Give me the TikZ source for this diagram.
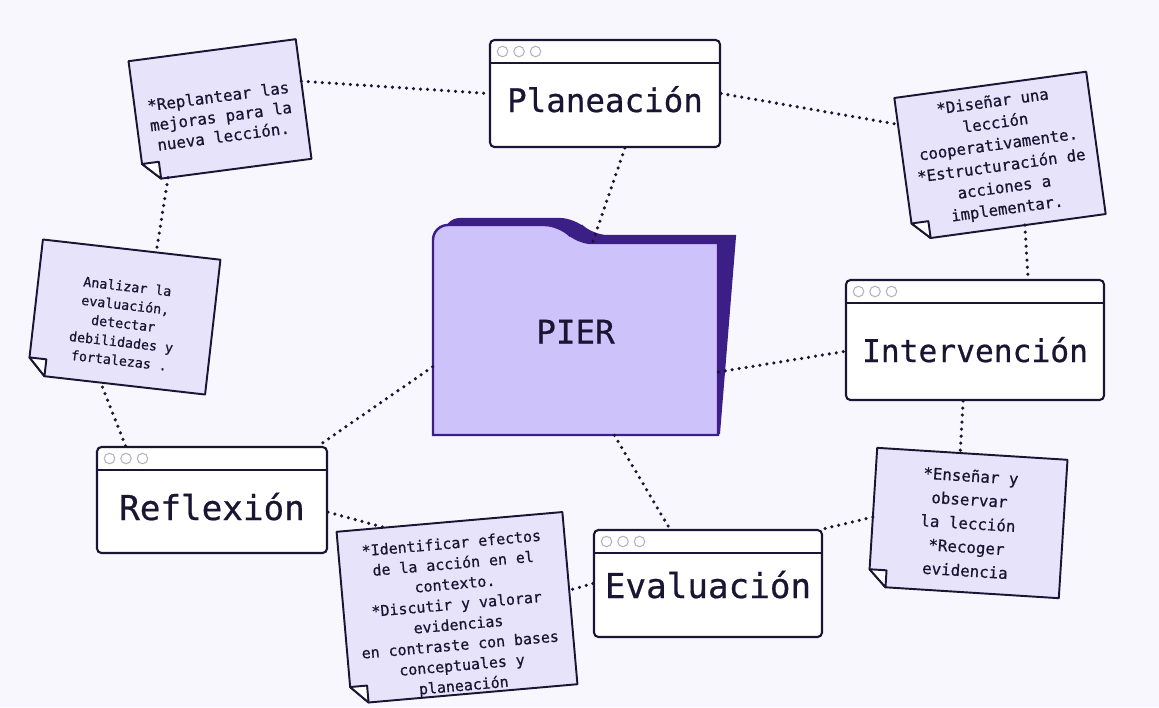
\documentclass[tikz,border=0pt]{standalone}
\usepackage{fontspec}
\usepackage{tikz}
\usetikzlibrary{calc, backgrounds}
\newfontfamily\mono[FakeBold=0.6]{DejaVu Sans Mono}
\definecolor{fondo}{HTML}{F8F7FD}
\definecolor{borde}{HTML}{1A1533}
\definecolor{papel}{HTML}{E6E3FA}
\definecolor{carpetaclara}{HTML}{CDC3FA}
\definecolor{carpetaoscura}{HTML}{3C1E87}
\definecolor{gris}{HTML}{B4B2C2}

\tikzset{
  ventana/.style={draw=borde, fill=white, line width=1.2pt, rounded corners=2.5pt, inner sep=0pt, text=borde,
    path picture={
      \draw[borde, line width=1.2pt] ([yshift=-0.46cm]path picture bounding box.north west) -- ([yshift=-0.46cm]path picture bounding box.north east);
      \foreach \dx in {0.25cm,0.58cm,0.91cm}
        \draw[gris, line width=0.6pt] ([xshift=\dx, yshift=-0.23cm]path picture bounding box.north west) circle (0.105cm);
    }},
  titulo/.style={font=\mono\fontsize{#1}{#1}\selectfont},
  nota/.style={inner sep=0pt, align=center, text=borde},
  letra/.style 2 args={font=\mono\fontsize{#1}{#2}\selectfont},
  hoja/.style={fill=papel, draw=borde, line width=1.1pt, line join=round},
  doblez/.style={fill=white, draw=borde, line width=1.1pt, line join=round},
  punteado/.style={draw=borde, line width=2pt, dash pattern=on 0pt off 4pt, line cap=round}
}

\begin{document}
\begin{tikzpicture}[x=0.02cm, y=-0.02cm]
  \useasboundingbox (0,0) rectangle (1159,707);
  \begin{scope}[on background layer]
    \fill[fondo] (0,0) rectangle (1159,707);
  \end{scope}

  % Carpeta PIER
  \filldraw[fill=carpetaoscura, draw=carpetaoscura, line width=1.2pt] (445,433) -- (445,236) [rounded corners=0.3cm] -- (445,219) -- (575,219) -- (592,236) [sharp corners] -- (735,236) -- (719,433) -- cycle;
  \filldraw[fill=carpetaclara, draw=carpetaoscura, line width=1.4pt] (433,435) -- (433,243) [rounded corners=0.3cm] -- (433,225) -- (560,225) -- (577,243) [sharp corners] -- (718,243) -- (718,435) -- cycle;
  \node[titulo=18.5, text=borde, inner sep=0pt, minimum width=5.7cm, text height=2.01cm, text depth=1.83cm] (carpeta) at (575.5,339) {PIER};

  % Ventanas
  \node[ventana, titulo=18.5, minimum width=4.6cm, text height=1.44cm, text depth=0.70cm] (plan) at (605,93.5) {Planeación};
  \node[ventana, titulo=17.8, minimum width=5.16cm, text height=1.64cm, text depth=0.76cm] (interv) at (975,340) {Intervención\hspace{0.35cm}};
  \node[ventana, titulo=19.5, minimum width=4.6cm, text height=1.46cm, text depth=0.66cm] (refl) at (212,500) {Reflexión};
  \node[ventana, titulo=19.5, minimum width=4.56cm, text height=1.36cm, text depth=0.78cm] (eval) at (708,583.5) {Evaluación};

  % Notas
  \node[nota, letra={9}{11.5}, rotate=7.5, minimum width=3.36cm, minimum height=2.4cm] (nota1) at (220,110)
    {\rule{0pt}{14pt}*Replantear las\\mejoras para la\\nueva lección.};
  \node[nota, letra={8.9}{12.3}, rotate=7.8, minimum width=3.86cm, minimum height=2.86cm] (nota2) at (1000,156)
    {*Diseñar una\\lección\\cooperativamente.\\*Estructuración de\\acciones a\\implementar.};
  \node[nota, letra={7.6}{10.6}, rotate=-6.5, minimum width=3.56cm, minimum height=2.7cm] (nota3) at (124,317)
    {\rule{0pt}{13pt}Analizar la\\evaluación,\\detectar\\debilidades y\\fortalezas .};
  \node[nota, letra={8.5}{11.6}, rotate=5, minimum width=4.52cm, minimum height=3.26cm] (nota4) at (457,608)
    {\rule{0pt}{15pt}*Identificar efectos\\de la acción en el\\contexto.\\*Discutir y valorar\\evidencias\\en contraste con bases\\conceptuales y\\planeación};
  \node[nota, letra={9}{13.5}, rotate=-3.6, minimum width=3.8cm, minimum height=2.76cm] (nota5) at (968,523)
    {*Enseñar y\\observar\\la lección\\*Recoger\\evidencia};

  % Papel de las notas con esquina doblada
  \begin{scope}[on background layer]
    \foreach \n in {nota1,nota2,nota3,nota4,nota5}{
      \coordinate (A) at ($(\n.south west)!0.34cm!(\n.north west)$);
      \coordinate (B) at ($(\n.south west)!0.34cm!(\n.south east)$);
      \filldraw[hoja] (A) -- (\n.north west) -- (\n.north east) -- (\n.south east) -- (B) -- cycle;
      \filldraw[doblez] (A) -- ($(A)+(B)-(\n.south west)$) -- (B) -- cycle;
    }
  \end{scope}

  % Conexiones
  \draw[punteado] (nota1.12) -- (plan.west);
  \draw[punteado] (nota1.225) -- (nota3.70);
  \draw[punteado] (plan.east) -- (nota2.155);
  \draw[punteado] (plan.-70) -- (carpeta.80);
  \draw[punteado] (nota2.-78) -- (interv.49);
  \draw[punteado] (carpeta.-13) -- (interv.185);
  \draw[punteado] (interv.-101) -- (nota5.100);
  \draw[punteado] (nota5.180) -- (eval.north east);
  \draw[punteado] (carpeta.-68) -- (eval.125);
  \draw[punteado] (eval.west) -- (nota4.4);
  \draw[punteado] (refl.-6) -- (nota4.127);
  \draw[punteado] (carpeta.191) -- (refl.27);
  \draw[punteado] (refl.148) -- (nota3.-103);
\end{tikzpicture}
\end{document}
